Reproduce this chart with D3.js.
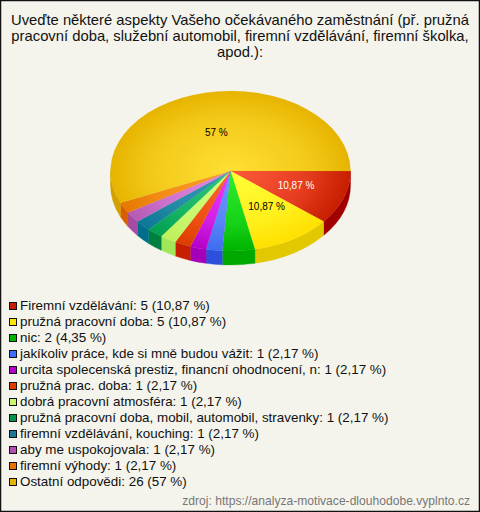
<!DOCTYPE html>
<html><head><meta charset="utf-8">
<script src="https://cdn.jsdelivr.net/npm/d3@7/dist/d3.min.js"></script>
<style>html,body{margin:0;padding:0;background:#f4f4ec}svg{display:block}text{font-family:"Liberation Sans",Arial,sans-serif}</style>
</head><body><div id="c"></div>
<script>
(function(){
const titleLines = ["Uveďte některé aspekty Vašeho očekávaného zaměstnání (př. pružná","pracovní doba, služební automobil, firemní vzdělávání, firemní školka,","apod.):"];
const categories = ["Firemní vzdělávání","pružná pracovní doba","nic","jakíkoliv práce, kde si mně budou vážit","urcita spolecenská prestiz, financní ohodnocení, n","pružná prac. doba","dobrá pracovní atmosféra","pružná pracovní doba, mobil, automobil, stravenky","firemní vzdělávání, kouching","aby me uspokojovala","firemní výhody","Ostatní odpovědi"];
const values = [5,5,2,1,1,1,1,1,1,1,1,26];
const percents = ["10,87 %","10,87 %","4,35 %","2,17 %","2,17 %","2,17 %","2,17 %","2,17 %","2,17 %","2,17 %","2,17 %","57 %"];
const innerColors = ["#ff5a3c","#ffff3a","#2cf02c","#6f9bff","#f03cff","#ff6428","#d2ff82","#2cc878","#3c9cb4","#e68ce6","#ffa02c","#ffe033"];
const outerColors = ["#c81e00","#ffe000","#00b400","#3f6cf0","#b400c8","#dc3c00","#bef05a","#00a050","#0a7896","#b45ab4","#e67800","#e6b400"];
const wallColors = ["#a00000","#e2c800","#00a800","#2d50dc","#a500b9","#c81e00","#a0e85a","#008040","#006e8c","#a54ba5","#d75f00","#d2a000"];
const swatchColors = ["#c81e00","#ffe600","#00b400","#3c6eff","#b400c8","#e13c00","#c8f56e","#009650","#1e7896","#b450b4","#e67300","#e6b400"];
const labelColors = ["#fff","#000",null,null,null,null,null,null,null,null,null,"#000"];
const sourceText = "zdroj: https://analyza-motivace-dlouhodobe.vyplnto.cz";

const W=480,H=512,cx=230.5,cy=171,rx=120,ry=80,depth=14;
const svg=d3.select("#c").append("svg").attr("width",W).attr("height",H);
svg.append("rect").attr("x",0.5).attr("y",0.5).attr("width",W-1).attr("height",H-1).attr("fill","#f4f4ec").attr("stroke","#111").attr("stroke-width",1.5);

svg.selectAll(".t").data(titleLines).join("text").attr("x",W/2).attr("y",(d,i)=>25+i*16).attr("text-anchor","middle").attr("font-size",14.8).attr("fill","#111").text(d=>d);

const pie=d3.pie().sort(null).value(d=>d).startAngle(Math.PI/2).endAngle(Math.PI*2.5);
const arcs=pie(values);
const arc=d3.arc().innerRadius(0).outerRadius(rx);
const labelArc=d3.arc().innerRadius(rx*0.58).outerRadius(rx*0.58);
const yScale=ry/rx;

const defs=svg.append("defs");
const grads=defs.selectAll("radialGradient").data(values).join("radialGradient").attr("id",(d,i)=>"g"+i)
 .attr("gradientUnits","userSpaceOnUse").attr("cx",0).attr("cy",0).attr("r",rx);
grads.append("stop").attr("offset",0).attr("stop-color",(d,i)=>innerColors[i]);
grads.append("stop").attr("offset",0.65).attr("stop-color",(d,i)=>d3.interpolateRgb(innerColors[i],outerColors[i])(0.5));
grads.append("stop").attr("offset",1).attr("stop-color",(d,i)=>outerColors[i]);

const pt=(t,dy)=>[cx+rx*Math.cos(t),cy+ry*Math.sin(t)+dy];
const wall=svg.append("g");
arcs.forEach((a,i)=>{
  const t0=Math.max(a.startAngle-Math.PI/2,0), t1=Math.min(a.endAngle-Math.PI/2,Math.PI);
  if(t1<=t0) return;
  const p0=pt(t0,0),p1=pt(t1,0),q1=pt(t1,depth),q0=pt(t0,depth);
  wall.append("path").attr("fill",wallColors[i]).attr("stroke",wallColors[i]).attr("stroke-width",0.4)
   .attr("d",`M${p0}A${rx} ${ry} 0 0 1 ${p1}L${q1}A${rx} ${ry} 0 0 0 ${q0}Z`);
});
const topFace=svg.append("g").attr("transform",`translate(${cx},${cy}) scale(1,${yScale})`);
topFace.selectAll("path").data(arcs).join("path").attr("d",arc).attr("fill",(d,i)=>`url(#g${i})`).attr("stroke",(d,i)=>outerColors[i]).attr("stroke-width",0.2);

svg.selectAll(".l").data(arcs.filter((d,i)=>labelColors[i])).join("text")
 .attr("x",d=>cx+labelArc.centroid(d)[0]).attr("y",d=>cy+labelArc.centroid(d)[1]*yScale*0.88+4.5)
 .attr("text-anchor","middle").attr("font-size",10).attr("fill",d=>labelColors[d.index]).text(d=>percents[d.index]);

const rowY=d3.scaleBand().domain(d3.range(categories.length)).range([297,489]);
const row=svg.selectAll(".r").data(categories).join("g").attr("transform",(d,i)=>`translate(0,${rowY(i)})`);
row.append("rect").attr("x",9.5).attr("y",5.5).attr("width",7).attr("height",7).attr("fill",(d,i)=>swatchColors[i]).attr("stroke","#111");
row.append("text").attr("x",20).attr("y",13).attr("font-size",13.4).attr("fill","#111").text((d,i)=>`${d}: ${values[i]} (${percents[i]})`);

svg.append("text").attr("x",470).attr("y",505).attr("text-anchor","end").attr("font-size",12.1).attr("fill","#777").text(sourceText);
})();
</script></body></html>
